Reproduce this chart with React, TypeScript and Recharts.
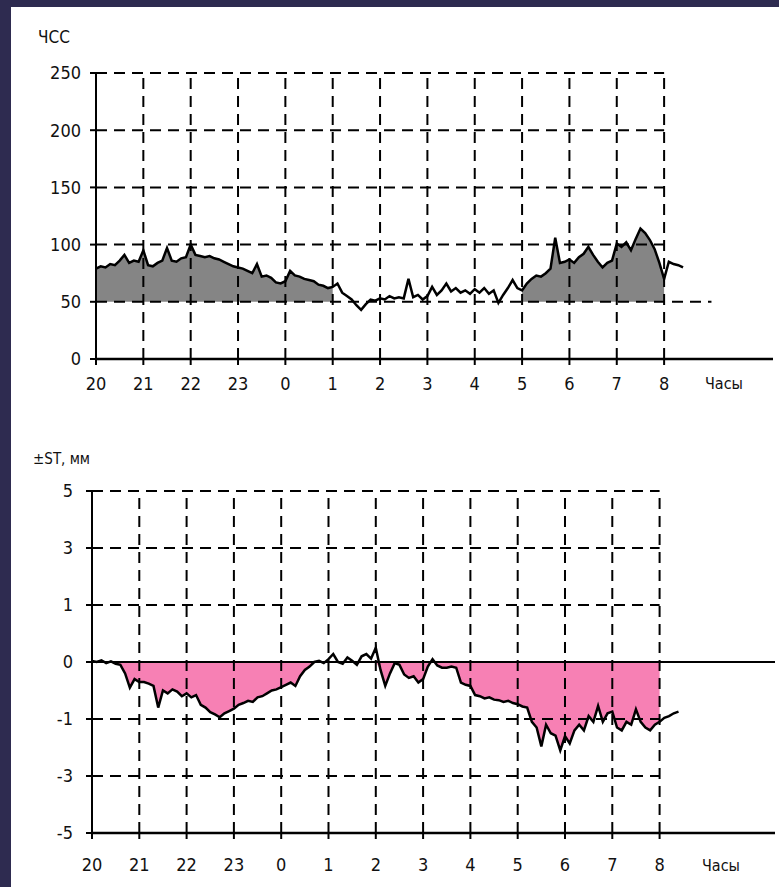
import React from 'react';
import { ComposedChart, Line, Area, XAxis, YAxis, ReferenceLine } from 'recharts';

// hours from 20:00, one sample every 6 minutes
const hourLabels = ['20', '21', '22', '23', '0', '1', '2', '3', '4', '5', '6', '7', '8'];
const hourTicks = [0, 1, 2, 3, 4, 5, 6, 7, 8, 9, 10, 11, 12];

// heart rate, beats/min
const hrTicks = [0, 50, 100, 150, 200, 250];
const hrValues = [
  79, 81, 80, 83, 82, 86, 91, 84, 86, 85,
  95, 82, 81, 84, 86, 97, 86, 85, 88, 89,
  100, 91, 90, 89, 90, 88, 87, 85, 83, 81,
  80, 79, 77, 75, 83, 72, 73, 71, 67, 66,
  68, 77, 73, 72, 70, 69, 68, 65, 64, 62,
  63, 66, 58, 55, 52, 47, 43, 48, 52, 51,
  53, 52, 55, 53, 54, 53, 70, 54, 56, 52,
  55, 63, 56, 60, 66, 59, 62, 58, 60, 57,
  61, 58, 62, 57, 60, 49, 56, 62, 69, 62,
  60, 66, 70, 73, 72, 75, 79, 106, 84, 85,
  87, 84, 89, 92, 98, 91, 85, 80, 84, 86,
  101, 98, 102, 95, 105, 114, 110, 104, 96, 84,
  70, 85, 83, 82, 80,
];

// ST segment shift, mm
const stTickMm = [5, 3, 1, 0, -1, -3, -5];
const stTickLabels = ['5', '3', '1', '0', '-1', '-3', '-5'];
const stValues = [
  0.02, 0.0, 0.03, -0.02, 0.01, -0.03, -0.05, -0.2, -0.45, -0.3,
  -0.35, -0.35, -0.38, -0.42, -0.8, -0.5, -0.55, -0.48, -0.52, -0.6,
  -0.55, -0.62, -0.58, -0.75, -0.8, -0.88, -0.92, -0.97, -0.9, -0.86,
  -0.82, -0.75, -0.72, -0.68, -0.7, -0.62, -0.6, -0.55, -0.5, -0.48,
  -0.44, -0.4, -0.36, -0.42, -0.25, -0.14, -0.08, 0.0, 0.02, -0.02,
  0.05, 0.14, 0.0, -0.03, 0.08, 0.02, -0.05, 0.1, 0.14, 0.06,
  0.25, -0.14, -0.42, -0.2, -0.02, -0.05, -0.22, -0.28, -0.25, -0.36,
  -0.3, -0.08, 0.05, -0.06, -0.1, -0.1, -0.08, -0.1, -0.36, -0.4,
  -0.42, -0.58, -0.6, -0.64, -0.62, -0.66, -0.67, -0.7, -0.68, -0.72,
  -0.74, -0.78, -0.8, -1.1, -1.3, -1.96, -1.2, -1.5, -1.58, -2.1,
  -1.6, -1.86, -1.4, -1.2, -1.4, -0.95, -1.1, -0.77, -1.1, -0.9,
  -0.87, -1.3, -1.4, -1.1, -1.2, -0.83, -1.1, -1.3, -1.4, -1.2,
  -1.1, -0.98, -0.95, -0.9, -0.87,
];

// the printed ST axis is stretched near zero: 0..1 takes one step, 1..3 and 3..5 one step each
const stPos = (v: number) => (Math.abs(v) <= 1 ? v : Math.sign(v) * (1 + (Math.abs(v) - 1) / 2));
const stTickPos = stTickMm.map(stPos);

const hrData = hrValues.map((v, i) => ({
  t: i / 10,
  hr: v,
  fill: i <= 50 || (i >= 90 && i <= 120) ? v : null,
}));

const stData = stValues.map((v, i) => ({
  t: i / 10,
  st: stPos(v),
  fill: i <= 120 ? stPos(Math.min(v, 0)) : null,
}));

const FONT = "'DejaVu Sans Condensed', 'Liberation Sans Narrow', 'DejaVu Sans', sans-serif";
const DASH = '11 7';
const tickStyle = { fill: '#111', fontSize: 18, fontFamily: FONT, fontStretch: 'condensed' as const };

const App: React.FC = () => {
  return (
    <div style={{ position: 'absolute', left: 0, top: 0, width: 779, height: 887, background: '#2e2b50', overflow: 'hidden' }}>
      <div style={{ position: 'absolute', left: 11, top: 7, right: 0, bottom: 0, background: '#fff' }} />

      <div style={{ position: 'absolute', left: 38, top: 27, fontFamily: FONT, fontStretch: 'condensed', fontSize: 17, color: '#111' }}>ЧСС</div>
      <div style={{ position: 'absolute', left: 705, top: 374, fontFamily: FONT, fontStretch: 'condensed', fontSize: 16, color: '#111' }}>Часы</div>
      <div style={{ position: 'absolute', left: 33, top: 450, fontFamily: FONT, fontStretch: 'condensed', fontSize: 15, color: '#111' }}>±ST, мм</div>
      <div style={{ position: 'absolute', left: 702, top: 856, fontFamily: FONT, fontStretch: 'condensed', fontSize: 16, color: '#111' }}>Часы</div>

      <div style={{ position: 'absolute', left: 0, top: 0 }}>
        <ComposedChart width={779} height={420} data={hrData} margin={{ top: 73, right: 6, bottom: 31, left: 46 }}>
          <XAxis
            dataKey="t"
            type="number"
            domain={[0, 14.3]}
            ticks={hourTicks}
            interval={0}
            tickFormatter={(v) => hourLabels[v]}
            axisLine={{ stroke: '#000', strokeWidth: 2.5 }}
            tickLine={{ stroke: '#000', strokeWidth: 2 }}
            tickSize={6}
            tickMargin={12}
            height={30}
            tick={tickStyle}
          />
          <YAxis
            type="number"
            domain={[0, 250]}
            ticks={hrTicks}
            interval={0}
            width={50}
            axisLine={{ stroke: '#000', strokeWidth: 2 }}
            tickLine={{ stroke: '#000', strokeWidth: 2 }}
            tickSize={6}
            tickMargin={9}
            tick={tickStyle}
          />
          <Area dataKey="fill" type="linear" baseValue={50} fill="#858585" fillOpacity={1} stroke="none" isAnimationActive={false} />
          {hrTicks.filter((v) => v > 0).map((v) => (
            <ReferenceLine
              key={`h${v}`}
              segment={[{ x: 0, y: v }, { x: v === 50 ? 13 : 12, y: v }]}
              stroke="#000"
              strokeWidth={2}
              strokeDasharray={DASH}
            />
          ))}
          {hourTicks.filter((v) => v > 0).map((v) => (
            <ReferenceLine
              key={`v${v}`}
              segment={[{ x: v, y: 0 }, { x: v, y: 250 }]}
              stroke="#000"
              strokeWidth={2}
              strokeDasharray={DASH}
            />
          ))}
          <Line dataKey="hr" type="linear" stroke="#000" strokeWidth={2.5} dot={false} isAnimationActive={false} />
        </ComposedChart>
      </div>

      <div style={{ position: 'absolute', left: 0, top: 420 }}>
        <ComposedChart width={779} height={467} data={stData} margin={{ top: 71, right: 4, bottom: 24, left: 42 }}>
          <XAxis
            dataKey="t"
            type="number"
            domain={[0, 14.44]}
            ticks={hourTicks}
            interval={0}
            tickFormatter={(v) => hourLabels[v]}
            axisLine={{ stroke: '#000', strokeWidth: 2.5 }}
            tickLine={{ stroke: '#000', strokeWidth: 2 }}
            tickSize={6}
            tickMargin={19}
            height={30}
            tick={tickStyle}
          />
          <YAxis
            type="number"
            domain={[-3, 3]}
            ticks={stTickPos}
            interval={0}
            width={50}
            tickFormatter={(v) => stTickLabels[stTickPos.indexOf(v)]}
            axisLine={{ stroke: '#000', strokeWidth: 2 }}
            tickLine={{ stroke: '#000', strokeWidth: 2 }}
            tickSize={6}
            tickMargin={13}
            tick={tickStyle}
          />
          <Area dataKey="fill" type="linear" baseValue={0} fill="#f780b4" fillOpacity={1} stroke="none" isAnimationActive={false} />
          {stTickPos.filter((v) => v !== 0 && v > -3).map((v) => (
            <ReferenceLine
              key={`h${v}`}
              segment={[{ x: 0, y: v }, { x: 12, y: v }]}
              stroke="#000"
              strokeWidth={2}
              strokeDasharray={DASH}
            />
          ))}
          {hourTicks.filter((v) => v > 0).map((v) => (
            <ReferenceLine
              key={`v${v}`}
              segment={[{ x: v, y: -3 }, { x: v, y: 3 }]}
              stroke="#000"
              strokeWidth={2}
              strokeDasharray={DASH}
            />
          ))}
          <ReferenceLine y={0} stroke="#000" strokeWidth={2} />
          <Line dataKey="st" type="linear" stroke="#000" strokeWidth={2.5} dot={false} isAnimationActive={false} />
        </ComposedChart>
      </div>
    </div>
  );
};

export default App;
